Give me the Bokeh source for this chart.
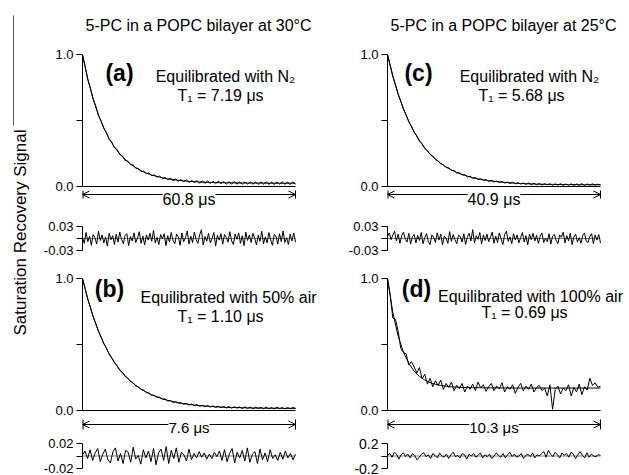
import numpy as np
from bokeh.plotting import figure
from bokeh.layouts import column, row
from bokeh.models import (Range1d, FixedTicker, Label, Arrow, OpenHead,
                          PrintfTickFormatter)
from bokeh.embed import file_html
from bokeh.resources import INLINE

FONT = "Liberation Sans"

# ---------------- texts ----------------
col_titles = ["5-PC in a POPC bilayer at 30°C", "5-PC in a POPC bilayer at 25°C"]
y_title = "Saturation Recovery Signal"
tags = ["(a)", "(b)", "(c)", "(d)"]
conditions = ["Equilibrated with N₂", "Equilibrated with 50% air",
              "Equilibrated with N₂", "Equilibrated with 100% air"]
t1_texts = ["T₁ = 7.19 μs", "T₁ = 1.10 μs", "T₁ = 5.68 μs", "T₁ = 0.69 μs"]
span_us = [60.8, 7.6, 40.9, 10.3]
span_texts = ["60.8 μs", "7.6 μs", "40.9 μs", "10.3 μs"]

main_ticks = [0.0, 1.0]
main_minor = [0.5]
main_fmt = "%.1f"
res_lim = [0.03, 0.02, 0.03, 0.2]
res_fmt = ["%.2f", "%.2f", "%.2f", "%.1f"]

# ---------------- data ----------------
data_a = [1.000, 0.906, 0.809, 0.741, 0.661, 0.607, 0.536, 0.495, 0.440, 0.410,
          0.357, 0.335, 0.293, 0.279, 0.243, 0.231, 0.198, 0.192, 0.165, 0.164,
          0.138, 0.137, 0.113, 0.116, 0.096, 0.103, 0.081, 0.088, 0.071, 0.079,
          0.059, 0.068, 0.052, 0.063, 0.045, 0.056, 0.039, 0.053, 0.036, 0.050,
          0.031, 0.046, 0.030, 0.044, 0.026, 0.041, 0.024, 0.042, 0.023, 0.039,
          0.021, 0.040, 0.022, 0.038, 0.018, 0.036, 0.020, 0.037, 0.018, 0.034,
          0.017, 0.035, 0.018, 0.036, 0.017, 0.034, 0.016, 0.035, 0.018, 0.035,
          0.016, 0.033, 0.015, 0.034, 0.017, 0.035, 0.016, 0.033, 0.015, 0.034,
          0.017]
fit_a = [1.000, 0.814, 0.664, 0.542, 0.444, 0.364, 0.299, 0.247, 0.205, 0.171,
         0.143, 0.120, 0.102, 0.087, 0.076, 0.066, 0.058, 0.052, 0.047, 0.043,
         0.039, 0.037, 0.034, 0.033, 0.031, 0.030, 0.029, 0.028, 0.028, 0.027,
         0.027, 0.026, 0.026, 0.026, 0.026, 0.025, 0.025, 0.025, 0.025, 0.025,
         0.025]
res_a_milli = [3, -12, 15, -8, 6, -17, 10, 2, -14, 18, -5, 9, -11, 4, -19, 13, -3, 7,
               -15, 11, -9, 16, -2, -13, 8, 12, -18, 5, -6, 14, -10, 1, 17, -12, 6,
               -16, 9, -4, 13, -7, 20, -11, 3, -15, 10, -1, 12, -18, 7, -9, 15, -5,
               -13, 11, 4, -17, 14, -8, 2, 19, -14, 6, -10, 16, -3, -12, 9, 22, -16,
               5, -7, 13, -11, 0, 15, -19, 8, -4, 12, -14, 10, 3, -9, 17, -6, -15, 11,
               -2, 14, -12, 7, -18, 16, -5, 9, -10, 13, 1, -16, 8, -7, 18, -13, 4,
               -11, 15, -3, -17, 10, 6, -14, 12, -8, 19, -10, 2, -15, 11, -6, 14, -9]

data_b = [1.000, 0.922, 0.841, 0.779, 0.710, 0.658, 0.598, 0.556, 0.506, 0.472,
          0.426, 0.399, 0.362, 0.340, 0.305, 0.288, 0.258, 0.246, 0.220, 0.210,
          0.186, 0.180, 0.158, 0.155, 0.135, 0.133, 0.114, 0.115, 0.099, 0.101,
          0.085, 0.088, 0.072, 0.076, 0.062, 0.068, 0.054, 0.059, 0.047, 0.054,
          0.041, 0.049, 0.036, 0.045, 0.032, 0.040, 0.028, 0.037, 0.026, 0.035,
          0.023, 0.033, 0.020, 0.031, 0.019, 0.030, 0.017, 0.029, 0.018, 0.027,
          0.014, 0.028, 0.015, 0.026, 0.013, 0.025, 0.016, 0.024, 0.012, 0.026,
          0.013, 0.023, 0.011, 0.025, 0.014, 0.022, 0.012, 0.024, 0.013, 0.023,
          0.016]
fit_b = [1.000, 0.844, 0.712, 0.602, 0.509, 0.430, 0.365, 0.309, 0.262, 0.223,
         0.190, 0.162, 0.139, 0.119, 0.103, 0.089, 0.077, 0.067, 0.059, 0.052,
         0.046, 0.041, 0.037, 0.034, 0.031, 0.028, 0.026, 0.024, 0.023, 0.022,
         0.021, 0.020, 0.019, 0.018, 0.018, 0.017, 0.017, 0.017, 0.016, 0.016,
         0.016]
res_b_milli = [2, 8, -4, 10, -7, 5, 12, -9, 3, 11, -6, -11, 7, 13, -8, 4, -12, 9, 6,
               -10, 14, -5, 1, -13, 10, -3, 8, -9, 12, -14, 5, 11, -7, 15, -12, 9,
               -4, 13, -10, 6, 2, -8, 11, -6, 4, -3, 7, -2, 5, -5, 3, -4, 6, -1, 8,
               -7, 10, -9, 4, 12, -11, 6, -3, 9, -8, 13, -10, 3, 7, -12, 11, -6, 5,
               -9, 10, -4, 2, -7, 6, -5, 8, -3, 4, -6, 3]

data_c = [1.000, 0.918, 0.834, 0.770, 0.698, 0.645, 0.585, 0.542, 0.490, 0.456,
          0.410, 0.383, 0.344, 0.323, 0.288, 0.272, 0.242, 0.230, 0.204, 0.195,
          0.171, 0.166, 0.144, 0.141, 0.121, 0.121, 0.102, 0.104, 0.087, 0.090,
          0.073, 0.078, 0.062, 0.068, 0.053, 0.059, 0.046, 0.052, 0.039, 0.047,
          0.034, 0.042, 0.030, 0.038, 0.026, 0.034, 0.023, 0.032, 0.020, 0.029,
          0.018, 0.027, 0.016, 0.026, 0.014, 0.025, 0.013, 0.023, 0.011, 0.022,
          0.012, 0.021, 0.010, 0.020, 0.011, 0.021, 0.009, 0.019, 0.010, 0.020,
          0.008, 0.019, 0.010, 0.021, 0.009, 0.019, 0.011, 0.020, 0.010, 0.018,
          0.012]
fit_c = [1.000, 0.837, 0.701, 0.588, 0.493, 0.414, 0.348, 0.292, 0.246, 0.208,
         0.175, 0.148, 0.126, 0.107, 0.092, 0.078, 0.067, 0.058, 0.051, 0.044,
         0.039, 0.035, 0.031, 0.028, 0.025, 0.023, 0.021, 0.020, 0.018, 0.017,
         0.016, 0.016, 0.015, 0.015, 0.014, 0.014, 0.013, 0.013, 0.013, 0.013,
         0.013]
res_c_milli = [5, 14, -3, 9, 18, -6, 11, -12, 7, 16, -2, -9, 13, -14, 4, 10, -11, 8,
               -5, 15, -13, 2, 12, -8, -15, 9, 3, -10, 14, -4, 11, -16, 6, 1, -12, 17,
               -7, 10, -3, -13, 8, 5, -9, 12, -15, 4, 13, -6, 22, -11, 7, -2, 15, -14,
               9, -5, 11, -8, 3, 16, -12, 6, -10, 14, -1, -15, 10, 18, -7, 4, -13, 12,
               -4, 9, -11, 2, 15, -9, 7, -16, 11, -3, 13, -6, 8, -12, 5, 14, -10, 1,
               -8, 12, -14, 6, 10, -5, -13, 9, 3, 16, -11, 7, -6, 13, -15, 4, 11, -9,
               2, -12, 8, 14, -7, -10, 5, 12, -13, 9, -4, 10, -11]

data_d = [1.000, 0.880, 0.700, 0.690, 0.600, 0.470, 0.440, 0.430, 0.345, 0.370,
          0.330, 0.285, 0.325, 0.240, 0.275, 0.200, 0.245, 0.180, 0.225, 0.190,
          0.230, 0.160, 0.205, 0.175, 0.215, 0.150, 0.190, 0.165, 0.205, 0.140,
          0.185, 0.160, 0.200, 0.150, 0.215, 0.170, 0.195, 0.145, 0.180, 0.205,
          0.150, 0.185, 0.165, 0.210, 0.140, 0.180, 0.160, 0.195, 0.130, 0.175,
          0.205, 0.150, 0.185, 0.160, 0.200, 0.140, 0.175, 0.190, 0.150, 0.170,
          0.110, 0.195, 0.010, 0.160, 0.185, 0.125, 0.170, 0.150, 0.195, 0.110,
          0.175, 0.140, 0.200, 0.120, 0.180, 0.155, 0.245, 0.190, 0.210, 0.175,
          0.185]
fit_d = [1.000, 0.742, 0.563, 0.441, 0.357, 0.298, 0.258, 0.231, 0.212, 0.199,
         0.190, 0.184, 0.179, 0.177, 0.175, 0.174, 0.173, 0.173, 0.172, 0.172,
         0.171, 0.171, 0.171, 0.171, 0.170, 0.170, 0.170, 0.170, 0.170, 0.170,
         0.170, 0.170, 0.170, 0.170, 0.170, 0.170, 0.170, 0.170, 0.170, 0.170,
         0.170]
res_d_centi = [1, 4, -2, 6, 3, -5, 2, 5, -1, 3, -3, 4, 1, -6, -2, 3, 5, -1, 2, -4, 4,
               1, -3, 5, 0, -2, 3, -4, 2, 6, -1, 1, -3, 4, 2, -5, 3, 0, 4, -2, 1, 5,
               -3, 2, -1, 3, -4, 0, 5, 1, -2, 4, -3, 2, 6, -1, 3, -2, 0, 4, -4, 1, 3,
               -1, 5, -3, 2, 0, 4, 7, -2, 9, 3, -1, 6, 2, -3, 5, 1, 4, -2, 6, 3, -4,
               2, 7, 1, -3, 5, -2, 3, 0, -1, 2, 1]

mains = [(data_a, fit_a), (data_b, fit_b), (data_c, fit_c), (data_d, fit_d)]
residuals = [np.array(res_a_milli) / 1000.0, np.array(res_b_milli) / 1000.0,
             np.array(res_c_milli) / 1000.0, np.array(res_d_centi) / 100.0]

# ---------------- layout (pixels) ----------------
DATA_W = 213          # pixel width of the 0..span interval
UNIT_H = 132          # pixel height of the 0..1 interval
COLS = [dict(width=292, bl=52, br=2, axis_px=82), dict(width=307, bl=65, br=2, axis_px=387)]
# per main panel (pixel rows): fig top, fig bottom, row of 0.0, arrow row, bar half, text row, text size
MAIN_GEOM = [dict(top=0, bottom=212, zero=186, arrow=194, bar=4, text=199, fs="16px"),
             dict(top=262, bottom=436, zero=410, arrow=424, bar=5, text=426.5, fs="15px")]
RES_GEOM = [dict(h=50, bt=14, bb=12), dict(h=39, bt=7, bb=7)]
TITLE_PX = [(198, 25), (503, 25)]
# label positions (x px from axis, y pixel row): tag(center), condition(baseline), T1(baseline)
LABEL_PX = [dict(tag=(37, 72), cond=(143, 76), t1=(138, 95)),
            dict(tag=(27, 288), cond=(146, 297), t1=(138, 316)),
            dict(tag=(31, 72), cond=(142, 76), t1=(134, 95)),
            dict(tag=(29, 288), cond=(143, 296), t1=(137, 312))]


def base_fig(width, height, xr, yr, bl=0, br=0, bt=0, bb=0, **kw):
    p = figure(width=width, height=height, x_range=xr, y_range=yr,
               toolbar_location=None, output_backend="svg",
               min_border_left=bl, min_border_right=br,
               min_border_top=bt, min_border_bottom=bb, **kw)
    p.grid.visible = False
    p.outline_line_color = None
    p.background_fill_color = "white"
    p.border_fill_color = "white"
    return p


def style_left_axis(ax, size):
    ax.axis_line_color = "black"
    ax.axis_line_width = 1
    ax.major_tick_line_color = "black"
    ax.minor_tick_line_color = "black"
    ax.major_tick_out = 6
    ax.major_tick_in = 0
    ax.minor_tick_out = 6
    ax.minor_tick_in = 0
    ax.major_label_standoff = 3
    ax.major_label_text_font = FONT
    ax.major_label_text_font_size = size
    ax.major_label_text_color = "black"


def make_main(i, ci, gi):
    col = COLS[ci]
    g = MAIN_GEOM[gi]
    xmax = span_us[i]
    frame_w = col["width"] - col["bl"] - col["br"]
    xpx = xmax / DATA_W                       # data units per pixel

    def yd(row_px):
        return (g["zero"] - row_px) / UNIT_H

    p = base_fig(col["width"], g["bottom"] - g["top"],
                 Range1d(0, frame_w * xpx), Range1d(yd(g["bottom"]), yd(g["top"])),
                 bl=col["bl"], br=col["br"], x_axis_location=None)
    ya = p.yaxis[0]
    ya.ticker = FixedTicker(ticks=main_ticks, minor_ticks=main_minor)
    ya.formatter = PrintfTickFormatter(format=main_fmt)
    ya.bounds = (0, 1)
    style_left_axis(ya, "13px")

    # baseline (x axis) of the panel
    p.segment(x0=[0], y0=[0], x1=[xmax], y1=[0], line_color="black", line_width=1)
    data, fit = mains[i]
    p.line(np.linspace(0, xmax, len(fit)), fit, line_color="black", line_width=1)
    p.line(np.linspace(0, xmax, len(data)), data, line_color="black", line_width=1)

    # span arrow under the panel
    ya_ = yd(g["arrow"])
    bh = g["bar"] / UNIT_H
    p.segment(x0=[0], y0=[ya_ - bh], x1=[0], y1=[ya_ + bh], line_color="black", line_width=2)
    p.segment(x0=[xmax], y0=[ya_ - bh], x1=[xmax], y1=[ya_ + bh], line_color="black", line_width=1)
    p.add_layout(Arrow(x_start=0, y_start=ya_, x_end=xmax, y_end=ya_,
                       line_color="black", line_width=1,
                       start=OpenHead(size=7, line_color="black", line_width=1),
                       end=OpenHead(size=7, line_color="black", line_width=1)))
    p.add_layout(Label(x=xmax / 2, y=yd(g["text"]), text=span_texts[i], text_font=FONT,
                       text_font_size=g["fs"], text_align="center",
                       text_baseline="middle", text_color="black",
                       background_fill_color="white"))

    lp = LABEL_PX[i]
    p.add_layout(Label(x=lp["tag"][0] * xpx, y=yd(lp["tag"][1]), text=tags[i],
                       text_font=FONT, text_font_size="23px", text_font_style="bold",
                       text_align="center", text_baseline="middle", text_color="black"))
    p.add_layout(Label(x=lp["cond"][0] * xpx, y=yd(lp["cond"][1]), text=conditions[i],
                       text_font=FONT, text_font_size="16px", text_align="center",
                       text_baseline="alphabetic", text_color="black"))
    p.add_layout(Label(x=lp["t1"][0] * xpx, y=yd(lp["t1"][1]), text=t1_texts[i],
                       text_font=FONT, text_font_size="16px", text_align="center",
                       text_baseline="alphabetic", text_color="black"))
    if gi == 0:
        tx, ty = TITLE_PX[ci]
        p.add_layout(Label(x=(tx - col["axis_px"]) * xpx, y=yd(ty), text=col_titles[ci],
                           text_font=FONT, text_font_size="16px", text_align="center",
                           text_baseline="middle", text_color="black"))
    return p


def make_res(i, ci, gi):
    col = COLS[ci]
    g = RES_GEOM[gi]
    xmax = span_us[i]
    frame_w = col["width"] - col["bl"] - col["br"]
    xpx = xmax / DATA_W
    lim = res_lim[i]
    res = residuals[i]
    p = base_fig(col["width"], g["h"], Range1d(0, frame_w * xpx), Range1d(-lim, lim),
                 bl=col["bl"], br=col["br"], bt=g["bt"], bb=g["bb"], x_axis_location=None)
    ya = p.yaxis[0]
    ya.ticker = FixedTicker(ticks=[-lim, lim], minor_ticks=[0.0])
    ya.formatter = PrintfTickFormatter(format=res_fmt[i])
    style_left_axis(ya, "14px" if i == 3 else "13px")
    p.segment(x0=[0], y0=[0], x1=[xmax], y1=[0], line_color="#808080", line_width=1)
    p.line(np.linspace(0, xmax, len(res)), res, line_color="black", line_width=1)
    return p


def make_column(ci, top_i, bot_i):
    return column(make_main(top_i, ci, 0), make_res(top_i, ci, 0),
                  make_main(bot_i, ci, 1), make_res(bot_i, ci, 1), spacing=0)


H = 475
strip = base_fig(30, H, Range1d(0, 30), Range1d(0, H),
                 x_axis_location=None, y_axis_location=None)
strip.segment(x0=[13], y0=[H - 15], x1=[13], y1=[H - 125], line_color="#555555", line_width=1)
strip.add_layout(Label(x=20, y=H - 232, text=y_title, text_font=FONT, text_font_size="17px",
                       angle=np.pi / 2, text_align="center", text_baseline="middle",
                       text_color="black"))

layout = row(strip, make_column(0, 0, 1), make_column(1, 2, 3), spacing=0)

open("out.html", "w").write(file_html(layout, INLINE))
